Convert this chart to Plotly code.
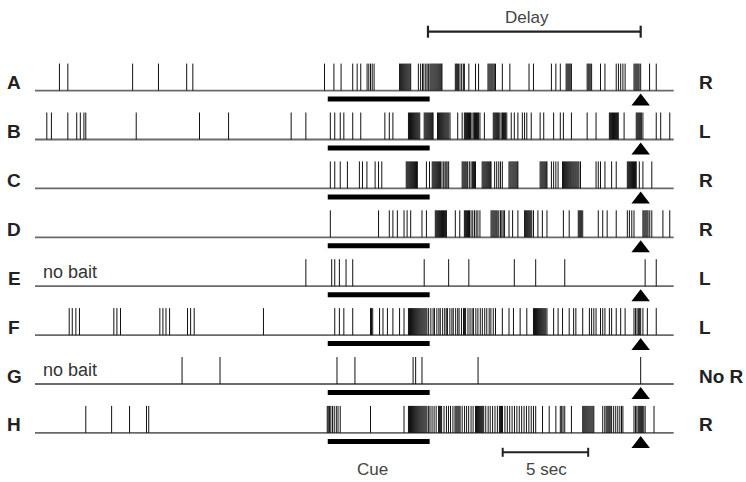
import plotly.graph_objects as go

# ---------------- data (times in seconds from start of trace) ----------------
row_labels = ["A", "B", "C", "D", "E", "F", "G", "H"]
outcomes = ["R", "L", "R", "R", "L", "L", "No R", "R"]
row_notes = ["", "", "", "", "no bait", "", "no bait", ""]

cue_start = 17.12
cue_end = 23.08
response_time = 35.42
delay_start = 22.98
delay_end = 35.42
trace_end = 37.35
scale_bar_start = 27.35
scale_bar_len = 5.0

spikes_A = [1.43, 1.92, 5.71, 7.22, 8.87, 9.23,
            16.93, 17.48, 17.90, 18.58, 18.84, 19.05, 19.42, 19.52, 19.62, 19.72, 19.83,
            21.32, 21.38, 21.44, 21.50, 21.56, 21.62, 21.68, 21.74, 21.80, 21.86, 21.92, 21.97,
            22.42, 22.55, 22.66, 22.74, 22.85, 22.93, 23.02, 23.10,
            23.16, 23.22, 23.28, 23.34, 23.40, 23.46, 23.52, 23.58, 23.64, 23.70, 23.76, 23.80,
            24.58, 24.64, 24.70, 24.76, 24.85, 24.95, 25.05, 25.11,
            25.37, 25.76, 25.94,
            26.49, 26.55, 26.61, 26.67, 26.73, 26.79, 26.86, 26.93,
            27.33, 27.77, 28.89, 29.15, 30.20, 30.46, 30.72,
            31.06, 31.12, 31.18, 31.24, 31.30, 31.37,
            32.29, 32.35, 32.41, 32.47, 32.55,
            33.07, 33.33,
            33.99, 34.12, 34.25, 34.38, 34.51,
            35.03, 35.09, 35.15, 35.21, 35.27, 35.33, 35.42,
            35.94, 36.33]

spikes_B = [0.69, 0.96, 1.92, 2.44, 2.65, 2.86, 2.97, 5.92, 9.62, 11.32, 14.98, 15.84,
            17.27, 17.53, 17.85, 18.06, 18.58, 19.05, 20.46, 20.72, 20.93,
            21.84, 21.90, 21.96, 22.02, 22.08, 22.14, 22.20, 22.26, 22.32, 22.38, 22.44, 22.50,
            22.76, 22.82, 22.88, 22.94, 23.00, 23.06, 23.12, 23.18, 23.24, 23.28,
            23.54, 23.60, 23.66, 23.72, 23.78, 23.84, 23.90, 23.96, 24.02, 24.08, 24.14, 24.20, 24.27,
            24.72, 24.98,
            25.11, 25.17, 25.23, 25.29, 25.35, 25.41, 25.47, 25.55, 25.63, 25.70, 25.76, 25.82, 25.88, 25.94, 26.02,
            26.28,
            26.80, 26.86, 26.92, 26.98, 27.04, 27.10, 27.18, 27.26, 27.34, 27.40, 27.46, 27.52, 27.59,
            27.85, 28.03, 28.24, 28.50, 28.63, 28.76, 29.02, 29.54, 29.75, 30.33, 30.72, 30.90,
            31.37, 32.29, 32.81,
            33.59, 33.65, 33.71, 33.77, 33.83, 33.89, 33.95, 34.01, 34.07, 34.11,
            34.45,
            35.16, 35.22, 35.28, 35.34, 35.40, 35.46, 35.55,
            36.33, 36.59, 37.12]

spikes_C = [17.27, 17.53, 17.85, 18.27, 18.97, 19.15, 19.41, 19.89, 20.09, 20.28,
            21.71, 21.77, 21.83, 21.89, 21.95, 22.01, 22.07, 22.13, 22.19, 22.25, 22.31, 22.36,
            22.89, 23.07,
            23.23, 23.29, 23.35, 23.41, 23.47, 23.53, 23.59, 23.65, 23.71, 23.80, 23.90, 23.98, 24.04, 24.10, 24.19,
            24.98, 25.04, 25.10, 25.16, 25.22, 25.30, 25.40, 25.50, 25.58, 25.64, 25.70, 25.76,
            26.15, 26.21, 26.27, 26.33, 26.39, 26.45, 26.51, 26.57, 26.63, 26.67,
            26.88, 27.00, 27.12, 27.22, 27.33,
            27.72, 27.78, 27.84, 27.90, 27.96, 28.02, 28.08, 28.14, 28.20, 28.24,
            29.54, 29.60, 29.66, 29.72, 29.78, 29.84, 29.90, 29.94,
            30.20, 30.33, 30.46, 30.59,
            30.85, 30.91, 30.97, 31.03, 31.09, 31.15, 31.21, 31.27, 31.33, 31.39, 31.45, 31.51,
            31.57, 31.63, 31.69, 31.75, 31.81, 31.90,
            32.81, 32.94, 33.07, 33.33, 33.72, 33.99,
            34.64, 34.70, 34.76, 34.82, 34.88, 34.94, 35.00, 35.06, 35.12, 35.16,
            35.34, 35.55, 36.07]

spikes_D = [17.27, 20.09, 20.72, 20.93, 21.19, 21.58, 21.76, 21.97, 22.63, 22.89,
            23.41, 23.47, 23.53, 23.59, 23.65, 23.71, 23.77, 23.83, 23.89, 23.95, 24.01, 24.06,
            24.58, 24.84, 25.11, 25.17, 25.23, 25.29, 25.35, 25.41, 25.50, 25.60, 25.70, 25.80, 25.90, 26.02,
            26.67, 26.73, 26.79, 26.85, 26.91, 26.97, 27.03, 27.12, 27.22, 27.30, 27.38, 27.46,
            27.72, 27.93, 28.24,
            28.63, 28.69, 28.75, 28.81, 28.87, 28.93, 28.99, 29.05, 29.15,
            29.41, 29.67, 29.94, 30.90, 31.24,
            31.77, 31.83, 31.89, 31.95, 32.03,
            32.94, 33.20, 33.46, 33.99,
            34.64, 34.76, 34.90, 35.03,
            35.55, 35.61, 35.67, 35.73, 35.79, 35.85, 35.95, 36.07,
            36.72, 37.12]

spikes_E = [15.84, 17.35, 17.53, 17.80, 18.19, 18.58, 22.76, 24.19, 25.37, 28.03,
            29.28, 30.98, 35.68, 36.33]

spikes_F = [2.00, 2.18, 2.39, 2.60, 4.61, 4.79, 5.00, 7.30, 7.48, 7.66, 7.87,
            8.92, 9.10, 9.31, 13.36,
            17.53, 17.80, 18.06, 18.58, 19.62, 19.68, 19.75, 20.15, 20.35, 20.61, 20.93, 21.32, 21.58,
            21.84, 21.90, 21.96, 22.02, 22.08, 22.14, 22.20, 22.26, 22.32, 22.38, 22.44, 22.50,
            22.56, 22.62, 22.68, 22.74, 22.80, 22.86, 22.92, 23.02,
            23.15, 23.28, 23.36, 23.50, 23.62, 23.70, 23.84, 23.96, 24.05, 24.12, 24.26, 24.38,
            24.46, 24.60, 24.72, 24.80, 24.94, 25.06, 25.12, 25.18, 25.32, 25.44, 25.56, 25.64,
            25.78, 25.90, 26.04, 26.16, 26.30, 26.42, 26.56, 26.66, 26.80, 26.93,
            27.33, 27.72, 27.98, 28.37, 28.76,
            29.15, 29.21, 29.27, 29.33, 29.39, 29.45, 29.51, 29.57, 29.63, 29.69, 29.75, 29.81, 29.87, 29.94,
            30.33, 30.59, 30.85, 31.24, 31.50, 31.63, 32.03, 32.42, 32.55, 32.68, 32.81,
            33.07, 33.20, 33.33, 33.59, 33.72, 33.99, 34.25, 34.51,
            35.03, 35.12, 35.21, 35.30, 35.36, 35.42, 35.55,
            35.81, 36.33]

spikes_G = [8.60, 10.82, 17.66, 18.71, 22.11, 22.26, 22.63, 25.91, 35.42]

spikes_H = [2.97, 4.48, 5.53, 6.52, 6.65,
            17.09, 17.15, 17.22, 17.30, 17.40, 17.50, 17.62, 17.72, 17.85,
            19.62, 21.58,
            21.84, 21.90, 21.96, 22.02, 22.08, 22.14, 22.20, 22.26, 22.32, 22.38, 22.44, 22.50,
            22.56, 22.62, 22.68, 22.74, 22.80, 22.86, 22.92, 23.02,
            23.10, 23.22, 23.34, 23.46, 23.60, 23.66, 23.72, 23.78, 23.92, 24.06, 24.18, 24.30,
            24.44, 24.56, 24.62, 24.68, 24.74, 24.80, 24.86, 24.98, 25.12, 25.24, 25.36, 25.50,
            25.62, 25.76, 25.82, 25.88, 25.94, 26.00, 26.06, 26.12, 26.18, 26.24, 26.36, 26.50,
            26.62, 26.76, 26.90, 27.04, 27.16, 27.22, 27.28, 27.34, 27.48, 27.62, 27.76, 27.90,
            28.04, 28.18, 28.32, 28.46, 28.60, 28.74, 28.88, 29.02, 29.15, 29.28,
            29.68, 30.07, 30.46, 30.72, 30.80, 30.88, 30.98, 31.37,
            32.03, 32.09, 32.15, 32.21, 32.27, 32.33, 32.39, 32.45, 32.51, 32.57, 32.63, 32.68,
            33.20, 33.32, 33.40, 33.46, 33.52, 33.58, 33.64, 33.72, 33.84, 33.96, 34.08, 34.20,
            34.30, 34.38,
            35.03, 35.12, 35.20, 35.28, 35.34, 35.40, 35.46, 35.52, 35.60, 35.68,
            36.20]

all_spikes = [spikes_A, spikes_B, spikes_C, spikes_D, spikes_E, spikes_F, spikes_G, spikes_H]

# ---------------- layout constants (page pixels) ----------------
PAGE_W, PAGE_H = 746, 482
PX_PER_S = 17.1
X0_PX = 35.0                   # page pixel of t=0
ROW0_PX = 90.6                 # page pixel of row-0 baseline
ROW_PX = 48.9                  # pixels between rows


def py(px):  # pixel distance -> row units
    return px / ROW_PX


def tx(page_x):  # page pixel x -> time coordinate
    return (page_x - X0_PX) / PX_PER_S


def vy(page_y):  # page pixel y -> row coordinate
    return (page_y - ROW0_PX) / ROW_PX


x_range = [tx(0), tx(PAGE_W)]
y_range = [vy(PAGE_H), vy(0)]

spike_h = py(27)
fig = go.Figure()

for i, sp in enumerate(all_spikes):
    fig.add_trace(go.Scatter(x=[0, trace_end], y=[i, i], mode="lines",
                             line=dict(color="#6a6a6a", width=1.8), hoverinfo="skip"))
    xs, ys = [], []
    for t in sp:
        xs += [t, t, None]
        ys += [i, i - spike_h, None]
    fig.add_trace(go.Scatter(x=xs, y=ys, mode="lines",
                             line=dict(color="#111111", width=1), hoverinfo="skip"))
    fig.add_trace(go.Scatter(x=[cue_start, cue_end], y=[i + py(8.5), i + py(8.5)], mode="lines",
                             line=dict(color="black", width=5), hoverinfo="skip"))
    fig.add_trace(go.Scatter(x=[response_time], y=[i + py(11)], mode="markers",
                             marker=dict(symbol="triangle-up", size=16, color="black"),
                             hoverinfo="skip"))

LBL_FONT = dict(family="Liberation Sans", size=19, color="#222")
TXT_FONT = dict(family="Liberation Sans", size=17, color="#444")

annotations = []
for i in range(len(row_labels)):
    annotations.append(dict(x=tx(14), y=i - py(8), text="<b>%s</b>" % row_labels[i],
                            showarrow=False, xanchor="center", yanchor="middle", font=LBL_FONT))
    annotations.append(dict(x=tx(697), y=i - py(8), text="<b>%s</b>" % outcomes[i],
                            showarrow=False, xanchor="left", yanchor="middle", font=LBL_FONT))
    if row_notes[i]:
        annotations.append(dict(x=tx(41), y=i - py(14), text=row_notes[i],
                                showarrow=False, xanchor="left", yanchor="middle",
                                font=dict(family="Liberation Sans", size=18, color="#333")))

# Delay bracket
yd = vy(31.7)
fig.add_trace(go.Scatter(x=[delay_start, delay_end], y=[yd, yd], mode="lines",
                         line=dict(color="#222", width=2.2), hoverinfo="skip"))
for xe in (delay_start, delay_end):
    fig.add_trace(go.Scatter(x=[xe, xe], y=[yd - py(6), yd + py(6)], mode="lines",
                             line=dict(color="#222", width=2.2), hoverinfo="skip"))
annotations.append(dict(x=tx(527), y=vy(17), text="Delay", showarrow=False,
                        xanchor="center", yanchor="middle", font=TXT_FONT))

# 5 sec scale bar
ys_ = vy(452.3)
fig.add_trace(go.Scatter(x=[scale_bar_start, scale_bar_start + scale_bar_len], y=[ys_, ys_],
                         mode="lines", line=dict(color="#222", width=2), hoverinfo="skip"))
for xe in (scale_bar_start, scale_bar_start + scale_bar_len):
    fig.add_trace(go.Scatter(x=[xe, xe], y=[ys_ - py(4.5), ys_ + py(4.5)], mode="lines",
                             line=dict(color="#222", width=2), hoverinfo="skip"))
annotations.append(dict(x=tx(546), y=vy(469), text="5 sec", showarrow=False,
                        xanchor="center", yanchor="middle", font=TXT_FONT))
annotations.append(dict(x=tx(372), y=vy(469), text="Cue", showarrow=False,
                        xanchor="center", yanchor="middle", font=TXT_FONT))

fig.update_layout(
    width=PAGE_W, height=PAGE_H,
    margin=dict(l=0, r=0, t=0, b=0),
    paper_bgcolor="white", plot_bgcolor="white",
    showlegend=False,
    xaxis=dict(range=x_range, visible=False, fixedrange=True),
    yaxis=dict(range=y_range, visible=False, fixedrange=True),
    annotations=annotations,
)

fig.write_html("out.html", config={"displayModeBar": False},
               post_script="document.body.style.margin='0px';document.body.style.overflow='hidden';")
